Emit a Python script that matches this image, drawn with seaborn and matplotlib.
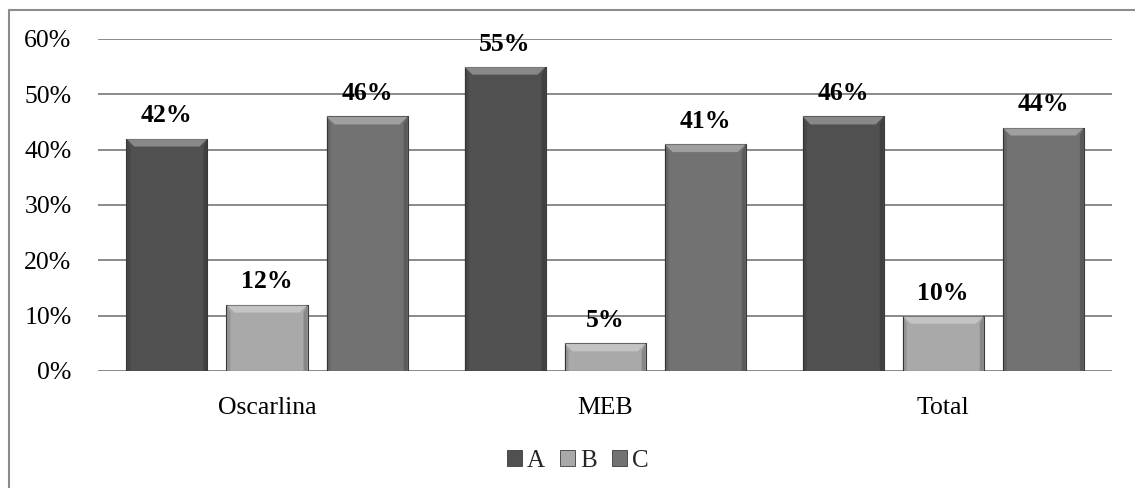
import matplotlib
matplotlib.use("Agg")
import matplotlib.pyplot as plt
import seaborn as sns
import pandas as pd
from matplotlib.patches import Polygon, Patch
from matplotlib.lines import Line2D
from matplotlib.ticker import PercentFormatter, MultipleLocator

# Data
categories = ["Oscarlina", "MEB", "Total"]
series_names = ["A", "B", "C"]
values_a = [0.42, 0.55, 0.46]
values_b = [0.12, 0.05, 0.10]
values_c = [0.46, 0.41, 0.44]

colors = {"A": "#505050", "B": "#a9a9a9", "C": "#727272"}

rows = []
for name, vals in zip(series_names, [values_a, values_b, values_c]):
    for cat, v in zip(categories, vals):
        rows.append({"grupo": cat, "serie": name, "valor": v})
df = pd.DataFrame(rows)

sns.set_theme(style="white")
plt.rcParams["font.family"] = ["Liberation Serif", "DejaVu Serif"]

fig = plt.figure(figsize=(11.35, 4.88), dpi=100)
ax = fig.add_axes([0.0863, 0.2398, 0.8937, 0.6803])

sns.barplot(data=df, x="grupo", y="valor", hue="serie", order=categories,
            hue_order=series_names, palette=colors, width=0.888, gap=0.19,
            edgecolor="#3c3c3c", linewidth=0.8, legend=False, ax=ax, zorder=3)

ax.set_ylim(0, 0.6)
ax.set_xlim(-0.5, 2.5)
ax.yaxis.set_major_locator(MultipleLocator(0.1))
ax.yaxis.set_major_formatter(PercentFormatter(1.0, decimals=0))
ax.grid(axis="y", color="#8a8a8a", linewidth=1.4, zorder=0)
ax.grid(axis="x", visible=False)
for s in ax.spines.values():
    s.set_visible(False)
ax.set_xlabel("")
ax.set_ylabel("")
ax.tick_params(axis="both", length=0, labelsize=18.5, colors="black")
ax.tick_params(axis="y", pad=19)
ax.tick_params(axis="x", pad=19)

# Bevel shading on each bar, built from the bar geometry
fig.canvas.draw()
inv = ax.transData.inverted()
px_x = abs(inv.transform((8, 0))[0] - inv.transform((0, 0))[0])
px_y = abs(inv.transform((0, 8))[1] - inv.transform((0, 0))[1])
for bar in ax.patches:
    x0, y0 = bar.get_x(), bar.get_y()
    w, h = bar.get_width(), bar.get_height()
    x1, y1 = x0 + w, y0 + h
    bx, by = px_x, min(px_y, h / 3)
    top = Polygon([(x0, y1), (x1, y1), (x1 - bx, y1 - by), (x0 + bx, y1 - by)],
                  closed=True, facecolor="white", alpha=0.32, edgecolor="none", zorder=4)
    left = Polygon([(x0, y0), (x0, y1), (x0 + bx * 0.5, y1 - by), (x0 + bx * 0.5, y0)],
                   closed=True, facecolor="black", alpha=0.12, edgecolor="none", zorder=4)
    right = Polygon([(x1, y0), (x1, y1), (x1 - bx * 0.5, y1 - by), (x1 - bx * 0.5, y0)],
                    closed=True, facecolor="black", alpha=0.2, edgecolor="none", zorder=4)
    for p in (top, left, right):
        ax.add_patch(p)
    ax.annotate(f"{h * 100:.0f}%", (x0 + w / 2, y1), xytext=(0, 8),
                textcoords="offset points", ha="center", va="bottom",
                fontsize=18.5, fontweight="bold", color="black", zorder=5)

handles = [Patch(facecolor=colors[n], edgecolor="#3c3c3c", linewidth=0.6) for n in series_names]
fig.legend(handles, series_names, loc="center", bbox_to_anchor=(0.509, 0.055),
           ncol=3, frameon=False, fontsize=18, handlelength=0.6, handleheight=0.6,
           handletextpad=0.2, columnspacing=0.6)

# Outer frame lines
fig.add_artist(Line2D([0.0075, 0.0075], [0.0, 0.979], transform=fig.transFigure,
                      color="#8c8c8c", linewidth=1.5))
fig.add_artist(Line2D([0.0075, 1.0], [0.979, 0.979], transform=fig.transFigure,
                      color="#8c8c8c", linewidth=1.5))

fig.savefig("out.png", dpi=100, facecolor="white")
